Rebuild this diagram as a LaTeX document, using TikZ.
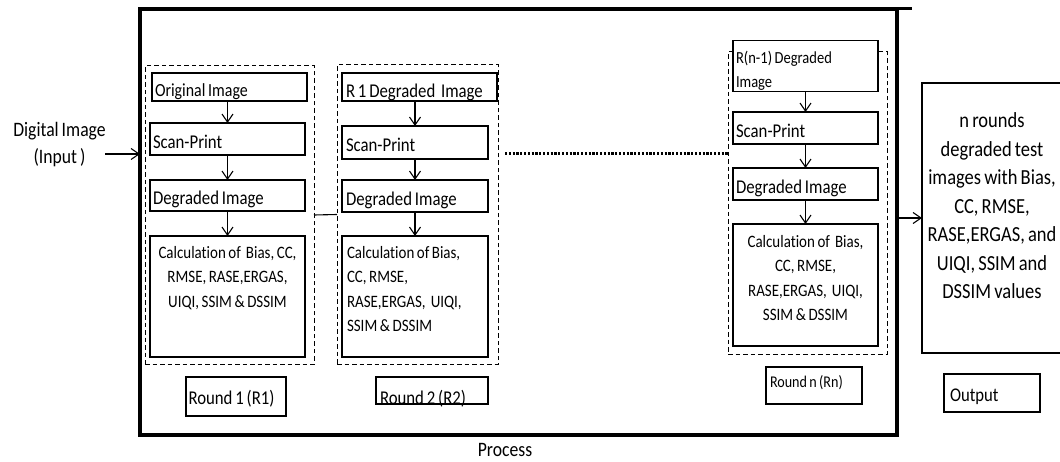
\documentclass[tikz,border=0pt]{standalone}
\usepackage{fontspec}
\setmainfont[FakeStretch=0.86, WordSpace=0.75, Ligatures=CommonOff]{Carlito}
\usetikzlibrary{arrows.meta}
\begin{document}
\begin{tikzpicture}[x=1pt,y=-1pt,
  every node/.style={inner sep=0pt, outer sep=0pt},
  stage/.style n args={3}{draw, fill=white, line width=1.5pt, minimum width=#1, minimum height=#2,
    text width=#3, text height=19pt, text depth=0pt, align=flush left,
    font=\fontsize{19.5}{22}\selectfont},
  panel/.style 2 args={draw, fill=white, line width=1.5pt, minimum width=#1, minimum height=#2},
  calctext/.style={font=\fontsize{17.4}{24.5}\selectfont},
  group/.style 2 args={draw, line width=1pt, dash pattern=on 4.5pt off 3pt,
    minimum width=#1, minimum height=#2},
  flow/.style={-{Straight Barb[length=8pt,width=11pt]}, line width=1.1pt},
  link/.style={line width=1.1pt}
]
\useasboundingbox (0,0) rectangle (1060,462);
\clip (0,0) rectangle (1060,462);

% process frame
\node[draw, line width=3.6pt, minimum width=757pt, minimum height=426pt] (proc) at (518.5,222) {};
\coordinate (topend) at (912,9);
\draw[line width=3pt] (proc.north east) -- (topend);
\node[font=\fontsize{20.5}{24}\selectfont] (proclabel) at (505,450) {Process};

% input
\node[font=\fontsize{20.5}{27}\selectfont, align=center] (input) at (59.5,145) {Digital Image\\(Input )};
\coordinate (instart) at (105,154);
\draw[flow] (instart) -- (proc.west |- instart);

% dashed round groups (drawn first, boxes sit on top)
\node[group={169pt}{298pt}] (g1) at (229.5,215) {};
\node[group={161pt}{299pt}] (g2) at (417.5,214.5) {};
\node[group={159pt}{302pt}] (gn) at (807.5,203) {};
\draw[link] (g1.east) -- (g2.west);

% round 1
\node[stage={155pt}{28pt}{149pt}, font=\fontsize{18.5}{22}\selectfont] (o1) at (229.5,87) {Original Image};
\node[stage={155pt}{32pt}{149pt}] (s1) at (227.5,139) {Scan-Print};
\node[stage={155pt}{31pt}{149pt}] (d1) at (227.5,195.5) {Degraded Image};
\node[panel={155pt}{121pt}] (c1) at (227.5,296.5) {};
\node[calctext, anchor=north, align=center] (c1t) at ([yshift=-10pt]c1.north)
  {Calculation of~~Bias, CC,\\RMSE, RASE,ERGAS,\\UIQI, SSIM \& DSSIM};
\draw[flow] (s1.north |- o1.south) -- (s1.north);
\draw[flow] (s1.south) -- (d1.north);
\draw[flow] (d1.south) -- (c1.north);
\node[stage={100pt}{39pt}{95pt}, text height=15.6pt] (r1) at (236,396.5) {Round 1 (R1)};

% round 2
\node[stage={155pt}{28pt}{147pt}, text height=22pt] (o2) at (419.5,87) {R 1 Degraded~~Image};
\node[stage={146pt}{33pt}{138pt}] (s2) at (415,142.5) {Scan-Print};
\node[stage={146pt}{32pt}{138pt}] (d2) at (415,196) {Degraded Image};
\node[panel={146pt}{121pt}] (c2) at (415,296.5) {};
\node[calctext, anchor=north west, align=left] (c2t) at ([xshift=5pt,yshift=-10pt]c2.north west)
  {Calculation of Bias,\\CC, RMSE,\\RASE,ERGAS,~~UIQI,\\SSIM \& DSSIM};
\draw[flow] (s2.north |- o2.south) -- (s2.north);
\draw[flow] (s2.south) -- (d2.north);
\draw[flow] (d2.south) -- (c2.north);
\node[panel={112pt}{27pt}] (r2) at (432,390.5) {};
\node[font=\fontsize{19.5}{22}\selectfont, anchor=base west] (r2t) at (380,404.5) {Round 2 (R2)};

% round n
\node[panel={145pt}{51pt}] (on) at (805.5,66) {};
\node[font=\fontsize{16.9}{24}\selectfont, anchor=north west, align=left] (ont)
  at ([xshift=3pt,yshift=-10.5pt]on.north west) {R(n-1) Degraded\\Image};
\node[stage={145pt}{32pt}{139pt}] (sn) at (805.5,128) {Scan-Print};
\node[stage={145pt}{32pt}{139pt}] (dn) at (805.5,184) {Degraded Image};
\node[panel={145pt}{122pt}] (cn) at (805.5,285) {};
\node[calctext, anchor=north, align=center] (cnt) at ([yshift=-11pt]cn.north)
  {Calculation of~~Bias,\\CC, RMSE,\\RASE,ERGAS,~~UIQI,\\SSIM \& DSSIM};
\draw[flow] (on.south) -- (sn.north);
\draw[flow] (sn.south) -- (dn.north);
\draw[flow] (dn.south) -- (cn.north);
\node[stage={96pt}{37pt}{88pt}, text height=3pt, font=\fontsize{16.4}{20}\selectfont] (rn) at (814,385.5) {Round n (Rn)};

% dotted continuation between round 2 and round n
\coordinate (dotstart) at (505,154);
\draw[line width=3pt, dash pattern=on 2.2pt off 1.6pt] (dotstart) -- (gn.west |- dotstart);

% output
\node[panel={140pt}{270pt}] (out) at (992,218) {};
\node[font=\fontsize{21.5}{28.5}\selectfont, align=center, anchor=north] (outt) at ([yshift=-30pt]out.north)
  {n rounds\\degraded test\\images with Bias,\\CC, RMSE,\\RASE,ERGAS, and\\UIQI, SSIM and\\DSSIM values};
\draw[flow] (proc.east |- out.west) -- (out.west);
\node[stage={96pt}{38pt}{84pt}, text height=17.4pt, font=\fontsize{19.4}{22}\selectfont] (outlabel) at (992,393) {Output};
\end{tikzpicture}
\end{document}
